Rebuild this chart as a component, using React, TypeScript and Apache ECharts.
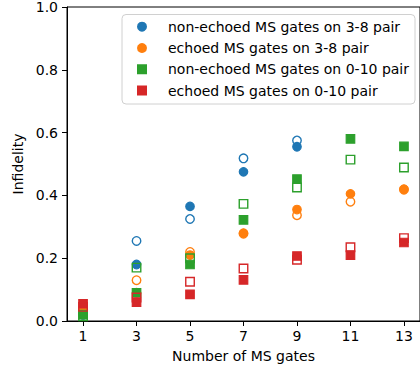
import React, { useEffect, useRef } from "react";
import * as echarts from "echarts";

const gateCounts = [1, 3, 5, 7, 9, 11, 13];
const xTicks = [1, 3, 5, 7, 9, 11, 13];

const nonEchoed38 = [0.02, 0.18, 0.365, 0.475, 0.555];
const nonEchoed38Open = [0.02, 0.255, 0.325, 0.518, 0.575];
const echoed38 = [0.035, 0.09, 0.21, 0.28, 0.355, 0.405, 0.42];
const echoed38Open = [0.04, 0.13, 0.22, 0.278, 0.337, 0.38, 0.418];
const nonEchoed010 = [0.02, 0.09, 0.18, 0.322, 0.452, 0.58, 0.556];
const nonEchoed010Open = [0.015, 0.17, 0.2, 0.373, 0.425, 0.514, 0.489];
const echoed010 = [0.055, 0.06, 0.085, 0.131, 0.207, 0.21, 0.25];
const echoed010Open = [0.045, 0.075, 0.125, 0.167, 0.195, 0.235, 0.264];

const legendNames = [
  "non-echoed MS gates on 3-8 pair",
  "echoed MS gates on 3-8 pair",
  "non-echoed MS gates on 0-10 pair",
  "echoed MS gates on 0-10 pair",
];

const FONT = "DejaVu Sans";

function pairs(vals: number[]) {
  return vals.map((v, i) => [gateCounts[i], v]);
}

function filled(name: string, vals: number[], color: string, symbol: string) {
  return {
    type: "scatter",
    name,
    data: pairs(vals),
    symbol,
    symbolSize: 8.5,
    itemStyle: { color, borderColor: color, borderWidth: 1.2, opacity: 1 },
    emphasis: { disabled: true },
  };
}

function open(name: string, vals: number[], color: string, symbol: string) {
  return {
    type: "scatter",
    name,
    data: pairs(vals),
    symbol,
    symbolSize: 8.5,
    itemStyle: { color: "rgba(0,0,0,0)", borderColor: color, borderWidth: 1.4, opacity: 1 },
    emphasis: { disabled: true },
  };
}

export default function App() {
  const ref = useRef<HTMLDivElement>(null);
  useEffect(() => {
    if (!ref.current) return;
    const chart = echarts.init(ref.current, undefined, { renderer: "svg" });
    const blue = "#1f77b4";
    const orange = "#ff7f0e";
    const green = "#2ca02c";
    const red = "#d62728";
    chart.setOption({
      animation: false,
      backgroundColor: "#fff",
      textStyle: { fontFamily: FONT },
      grid: {
        left: 67,
        top: 7,
        width: 355,
        height: 314,
        show: true,
        borderColor: "#000",
        borderWidth: 1,
        backgroundColor: "transparent",
      },
      xAxis: {
        type: "value",
        min: 0.4,
        max: 13.6,
        name: "Number of MS gates",
        nameLocation: "middle",
        nameGap: 28,
        nameTextStyle: { fontFamily: FONT, fontSize: 14, color: "#000" },
        axisLine: { show: true, lineStyle: { color: "#000", width: 1 } },
        axisTick: { show: true, length: 5, lineStyle: { color: "#000" }, customValues: xTicks },
        axisLabel: {
          fontFamily: FONT,
          fontSize: 14,
          color: "#000",
          margin: 8,
          customValues: xTicks,
          formatter: (v: number) => String(v),
        },
        splitLine: { show: false },
      },
      yAxis: {
        type: "value",
        min: 0,
        max: 1,
        interval: 0.2,
        name: "Infidelity",
        nameLocation: "middle",
        nameGap: 39,
        nameTextStyle: { fontFamily: FONT, fontSize: 14, color: "#000" },
        axisLine: { show: true, lineStyle: { color: "#000", width: 1 } },
        axisTick: { show: true, length: 5, lineStyle: { color: "#000" } },
        axisLabel: {
          fontFamily: FONT,
          fontSize: 14,
          color: "#000",
          margin: 9,
          formatter: (v: number) => v.toFixed(1),
        },
        splitLine: { show: false },
      },
      graphic: [
        {
          type: "rect",
          z: 3,
          shape: { x: 122, y: 14.5, width: 293, height: 89.5, r: 4 },
          style: { fill: "rgba(255,255,255,0.8)", stroke: "#d0d0d0", lineWidth: 1 },
        },
      ],
      legend: {
        show: true,
        z: 5,
        orient: "vertical",
        left: 137,
        top: 18.7,
        padding: 0,
        itemGap: 5.3,
        itemWidth: 8,
        itemHeight: 8,
        selectedMode: false,
        data: [
          { name: legendNames[0], icon: "circle" },
          { name: legendNames[1], icon: "circle" },
          { name: legendNames[2], icon: "rect" },
          { name: legendNames[3], icon: "rect" },
        ],
        textStyle: {
          fontFamily: FONT,
          fontSize: 14,
          color: "#000",
          lineHeight: 16,
          padding: [0, 0, 0, 17],
        },
      },
      series: [
        filled(legendNames[0], nonEchoed38, blue, "circle"),
        open("open-3-8-non", nonEchoed38Open, blue, "circle"),
        filled(legendNames[1], echoed38, orange, "circle"),
        open("open-3-8-echo", echoed38Open, orange, "circle"),
        filled(legendNames[2], nonEchoed010, green, "rect"),
        open("open-0-10-non", nonEchoed010Open, green, "rect"),
        filled(legendNames[3], echoed010, red, "rect"),
        open("open-0-10-echo", echoed010Open, red, "rect"),
      ],
    });
    return () => chart.dispose();
  }, []);
  return (
    <div
      ref={ref}
      style={{ position: "absolute", left: 0, top: 0, width: 420, height: 369 }}
    />
  );
}
